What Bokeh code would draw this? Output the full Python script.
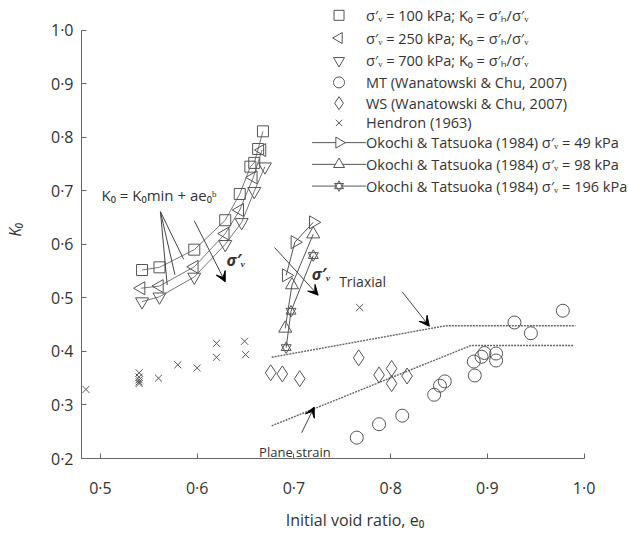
from bokeh.plotting import figure
from bokeh.models import (Range1d, FixedTicker, CustomJSTickFormatter, Arrow, VeeHead, Label)
from bokeh.core.properties import value
from bokeh.embed import file_html
from bokeh.resources import INLINE

FONT = "Open Sans"
GREY = "#555555"
TXT = "#333333"

# ---------------- data ----------------
# sigma'v = 100 kPa
e100 = [0.543, 0.561, 0.597, 0.629, 0.644, 0.655, 0.659, 0.663, 0.668]
k100 = [0.552, 0.557, 0.590, 0.645, 0.694, 0.745, 0.752, 0.778, 0.811]
# sigma'v = 250 kPa
e250 = [0.542, 0.561, 0.597, 0.629, 0.644, 0.658, 0.667]
k250 = [0.518, 0.522, 0.558, 0.620, 0.664, 0.725, 0.776]
# sigma'v = 700 kPa
e700 = [0.543, 0.561, 0.597, 0.629, 0.646, 0.659, 0.670]
k700 = [0.493, 0.502, 0.539, 0.600, 0.641, 0.699, 0.745]
# MT (Wanatowski & Chu, 2007)
e_mt = [0.765, 0.788, 0.812, 0.845, 0.851, 0.856, 0.887, 0.886, 0.894, 0.897, 0.909, 0.909, 0.945, 0.928, 0.978]
k_mt = [0.239, 0.264, 0.280, 0.319, 0.336, 0.344, 0.355, 0.381, 0.390, 0.397, 0.396, 0.383, 0.434, 0.454, 0.476]
# WS (Wanatowski & Chu, 2007)
e_ws = [0.676, 0.688, 0.706, 0.767, 0.788, 0.801, 0.801, 0.817]
k_ws = [0.360, 0.358, 0.349, 0.388, 0.356, 0.368, 0.340, 0.354]
# Hendron (1963)
e_hd = [0.485, 0.540, 0.540, 0.540, 0.540, 0.540, 0.560, 0.580, 0.600, 0.620, 0.620, 0.649, 0.650, 0.768]
k_hd = [0.329, 0.360, 0.352, 0.347, 0.343, 0.340, 0.350, 0.375, 0.369, 0.415, 0.389, 0.419, 0.394, 0.482]
# Okochi & Tatsuoka (1984)
e_ok49 = [0.692, 0.701, 0.720]
k_ok49 = [0.542, 0.604, 0.641]
e_ok98 = [0.691, 0.698, 0.720]
k_ok98 = [0.443, 0.524, 0.619]
e_ok196 = [0.692, 0.697, 0.720]
k_ok196 = [0.407, 0.475, 0.579]
# Triaxial / plane strain bounds
e_tri = [0.677, 0.857, 0.991]
k_tri = [0.389, 0.448, 0.448]
e_ps = [0.677, 0.883, 0.989]
k_ps = [0.261, 0.411, 0.411]

x_ticks = [0.5, 0.6, 0.7, 0.8, 0.9, 1.0]
y_ticks = [0.2, 0.3, 0.4, 0.5, 0.6, 0.7, 0.8, 0.9, 1.0]

legend_labels = [
    "\u03c3\u2032\u1d65 = 100 kPa; K\u2080 = \u03c3\u2032\u2095/\u03c3\u2032\u1d65",
    "\u03c3\u2032\u1d65 = 250 kPa; K\u2080 = \u03c3\u2032\u2095/\u03c3\u2032\u1d65",
    "\u03c3\u2032\u1d65 = 700 kPa; K\u2080 = \u03c3\u2032\u2095/\u03c3\u2032\u1d65",
    "MT (Wanatowski & Chu, 2007)",
    "WS (Wanatowski & Chu, 2007)",
    "Hendron (1963)",
    "Okochi & Tatsuoka (1984) \u03c3\u2032\u1d65 = 49 kPa",
    "Okochi & Tatsuoka (1984) \u03c3\u2032\u1d65 = 98 kPa",
    "Okochi & Tatsuoka (1984) \u03c3\u2032\u1d65 = 196 kPa",
]
legend_markers = ["square", "triangle", "inverted_triangle", "circle", "diamond", "x",
                  "triangle", "triangle", "triangle"]
legend_angles = [0, 1.5708, 0, 0, 0, 0, -1.5708, 0, 0]
legend_sizes = [10, 11, 11, 11, 13, 9, 11, 11, 9]

# ---------------- figure ----------------
# frame spans from the y axis to the right edge and from the x axis to the top edge;
# axis lines are bounded to the data extent
p = figure(width=628, height=533, x_range=Range1d(0.4804, 1.0459), y_range=Range1d(0.2, 1.0553),
           output_backend="svg", toolbar_location=None,
           min_border_left=80, min_border_right=0, min_border_top=0, min_border_bottom=69)
p.grid.visible = False
p.outline_line_color = None
p.background_fill_color = "white"
# pixel-space ranges for the legend block
p.extra_x_ranges = {"px": Range1d(80, 628)}
p.extra_y_ranges = {"py": Range1d(464, 0)}

fmt = CustomJSTickFormatter(code="return tick.toFixed(1).replace('.', '\u00b7');")
for ax, ticks, b in ((p.xaxis[0], x_ticks, (0.4804, 1.0)), (p.yaxis[0], y_ticks, (0.2, 1.0))):
    ax.ticker = FixedTicker(ticks=ticks)
    ax.formatter = fmt
    ax.bounds = b
    ax.minor_tick_line_color = None
    ax.major_tick_in = 5
    ax.major_tick_out = 0
    ax.axis_line_color = "#666666"
    ax.major_tick_line_color = "#666666"
    ax.major_label_text_font = FONT
    ax.major_label_text_font_size = "16px"
    ax.major_label_text_color = TXT
    ax.axis_label_text_font = FONT
    ax.axis_label_text_font_size = "16px"
    ax.axis_label_text_color = TXT
    ax.axis_label_text_font_style = "normal"

p.xaxis.axis_label = "Initial void ratio, e\u2080"
p.yaxis.axis_label = "K\u2080"
p.yaxis.axis_label_text_font_style = "italic"
p.xaxis.major_label_standoff = 18
p.yaxis.major_label_standoff = 8
p.xaxis.axis_label_standoff = 7
p.yaxis.axis_label_standoff = 22

LC = "#777777"
# bounds (dotted)
p.line(e_tri, k_tri, line_color="#666666", line_width=1.4, line_dash="2 1")
p.line(e_ps, k_ps, line_color="#666666", line_width=1.4, line_dash="2 1")

# fitted curves
p.line(e100, k100, line_color=LC, line_width=1)
p.line(e250, k250, line_color=LC, line_width=1)
p.line(e700, k700, line_color=LC, line_width=1)

ms = dict(fill_color=None, line_color=GREY, line_width=1)
p.scatter(e100, k100, marker="square", size=11, **ms)
p.scatter(e250, k250, marker="triangle", angle=1.5708, size=13, **ms)
p.scatter(e700, k700, marker="inverted_triangle", size=13, **ms)
p.scatter(e_mt, k_mt, marker="circle", size=13, **ms)
p.scatter(e_ws, k_ws, marker="diamond", size=16, **ms)
p.scatter(e_hd, k_hd, marker="x", size=10, **ms)

p.line(e_ok49, k_ok49, line_color=GREY, line_width=1)
p.scatter(e_ok49, k_ok49, marker="triangle", angle=-1.5708, size=13, **ms)
p.line(e_ok98, k_ok98, line_color=GREY, line_width=1)
p.scatter(e_ok98, k_ok98, marker="triangle", size=13, **ms)
p.line(e_ok196, k_ok196, line_color=GREY, line_width=1)
p.scatter(e_ok196, k_ok196, marker="triangle", size=10, **ms)
p.scatter(e_ok196, k_ok196, marker="inverted_triangle", size=10, **ms)

# annotation for fitted curves
p.segment(x0=[0.562, 0.562, 0.562], y0=[0.661, 0.661, 0.661],
          x1=[0.586, 0.577, 0.569], y1=[0.572, 0.543, 0.524], line_color="#444444", line_width=1)
p.add_layout(Label(x=0.5605, y=0.692, text="K\u2080 = K\u2080min + ae\u2080\u1d47", text_font=FONT,
                   text_font_size="15px", text_color=TXT, text_align="center", text_baseline="middle"))

head = dict(size=10, fill_color="black", line_color="black")
p.add_layout(Arrow(x_start=0.597, y_start=0.644, x_end=0.629, y_end=0.530,
                   end=VeeHead(**head), line_color="#444444", line_width=1))
p.add_layout(Label(x=0.640, y=0.570, text="\u03c3\u2032\u1d65", text_font=FONT, text_font_size="16px",
                   text_font_style="bold italic", text_color=TXT, text_align="center", text_baseline="middle"))
p.add_layout(Arrow(x_start=0.680, y_start=0.594, x_end=0.725, y_end=0.505,
                   end=VeeHead(**head), line_color="#444444", line_width=1))
p.add_layout(Label(x=0.728, y=0.545, text="\u03c3\u2032\u1d65", text_font=FONT, text_font_size="16px",
                   text_font_style="bold italic", text_color=TXT, text_align="center", text_baseline="middle"))

p.add_layout(Label(x=0.771, y=0.530, text="Triaxial", text_font=FONT, text_font_size="14px",
                   text_color=TXT, text_align="center", text_baseline="middle"))
p.add_layout(Arrow(x_start=0.812, y_start=0.511, x_end=0.840, y_end=0.447,
                   end=VeeHead(**head), line_color="#444444", line_width=1))
p.add_layout(Label(x=0.701, y=0.212, text="Plane strain", text_font=FONT, text_font_size="13px",
                   text_color=TXT, text_align="center", text_baseline="middle"))
p.add_layout(Arrow(x_start=0.708, y_start=0.248, x_end=0.721, y_end=0.296,
                   end=VeeHead(**head), line_color="#444444", line_width=1))

# ---------------- legend (pixel space) ----------------
leg_rows = [15, 38, 61, 83, 104, 124, 144, 166, 188]
leg_mx = [338] * 9
leg_tx = [365] * 9
p.segment(x0=[311, 311, 311], y0=leg_rows[6:], x1=[365, 365, 365], y1=leg_rows[6:],
          line_color=GREY, line_width=1, x_range_name="px", y_range_name="py")
p.scatter(leg_mx, leg_rows, marker=legend_markers, angle=legend_angles, size=legend_sizes,
          fill_color="white", line_color=GREY, line_width=1, x_range_name="px", y_range_name="py")
p.scatter(leg_mx[8:], leg_rows[8:], marker="inverted_triangle", size=9,
          fill_color=None, line_color=GREY, line_width=1, x_range_name="px", y_range_name="py")
p.text(leg_tx, leg_rows, text=legend_labels, text_baseline="middle", text_align="left",
       text_font=value(FONT), text_font_size="14.5px", text_color=TXT,
       x_range_name="px", y_range_name="py")

open("out.html", "w").write(file_html(p, INLINE))
